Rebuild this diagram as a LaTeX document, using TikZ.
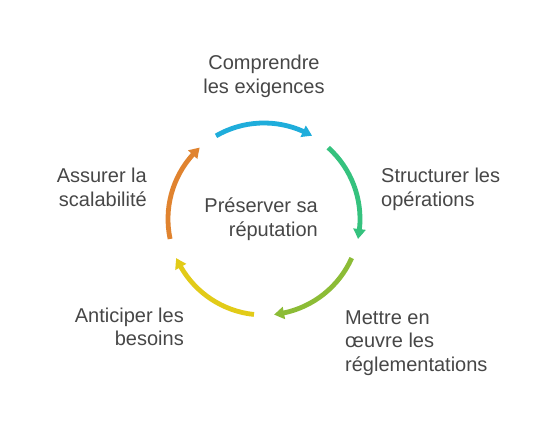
\documentclass[tikz,border=0pt]{standalone}
\usepackage{fontspec}
\setmainfont{Liberation Sans}
\usetikzlibrary{arrows.meta,bending,calc}
\definecolor{cblue}{HTML}{1FADDB}
\definecolor{cgreen}{HTML}{35C27E}
\definecolor{clime}{HTML}{8CBC36}
\definecolor{cyellow}{HTML}{E2CB18}
\definecolor{corange}{HTML}{E0832F}
\definecolor{ctext}{HTML}{474747}
\tikzset{
  lbl/.style={inner sep=0pt, text=ctext, font=\fontsize{20}{23.5}\selectfont},
  seg/.style={line width=4.8pt, -{Triangle[length=10pt,width=12pt,bend]}},
}
\begin{document}
\begin{tikzpicture}[x=1pt,y=-1pt]
\useasboundingbox (0,0) rectangle (553,435);
\fill[white] (0,0) rectangle (553,435);
\coordinate (C) at (264,219);
\foreach \k/\col in {0/cblue,1/cgreen,2/clime,3/cyellow,4/corange}{
  \pgfmathsetmacro\sa{120-72*\k}
  \pgfmathsetmacro\ea{60-72*\k}
  \coordinate (s\k) at ($(C)+(\sa:96pt)$);
  \draw[seg,draw=\col] (s\k) arc[start angle=\sa,end angle=\ea,radius=96pt];
}
\node[lbl,align=center,anchor=base] (t1) at (264,93.5) {Comprendre\\les exigences};
\node[lbl,align=left,anchor=base west] (t2) at (381,206.5) {Structurer les\\opérations};
\node[lbl,align=left,anchor=base west] (t3) at (345,371) {Mettre en\\œuvre les\\réglementations};
\node[lbl,align=right,anchor=base east] (t4) at (184,345.5) {Anticiper les\\besoins};
\node[lbl,align=right,anchor=base east] (t5) at (147,206.5) {Assurer la\\scalabilité};
\node[lbl,align=right,anchor=base east] (tc) at (318,236.5) {Préserver sa\\réputation};
\end{tikzpicture}
\end{document}
